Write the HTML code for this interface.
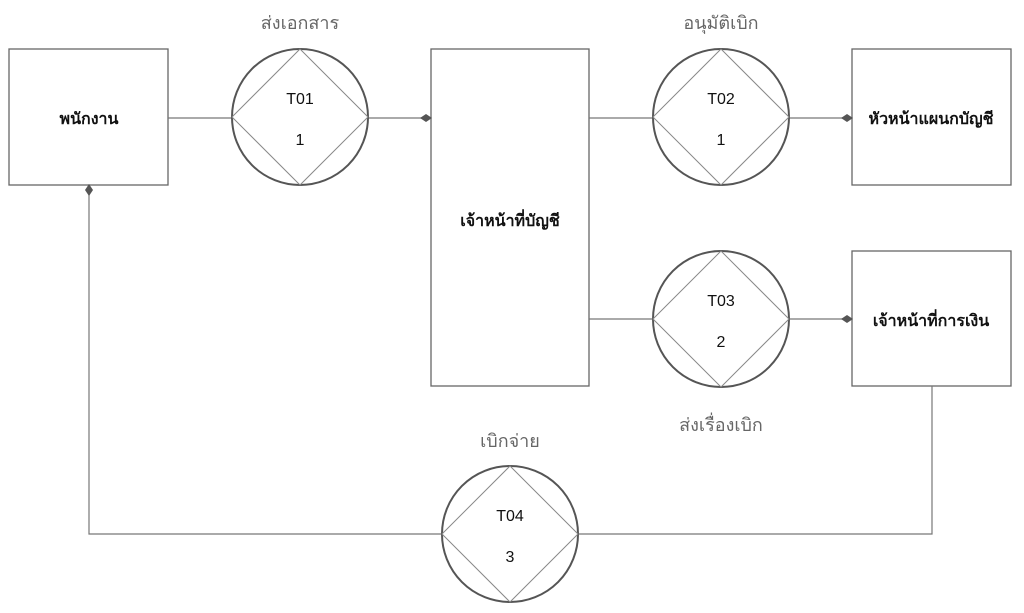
<!DOCTYPE html>
<html><head><meta charset="utf-8"><style>
html,body{margin:0;padding:0;background:#fff;}
svg{display:block;}
text{font-family:"Liberation Sans","Noto Sans CJK SC",sans-serif;}
.b{font-weight:bold;font-size:16px;fill:#111;}
.t{font-size:16px;fill:#111;}
.l{font-size:18px;fill:#666;}
</style></head><body>
<svg width="1024" height="613" viewBox="0 0 1024 613">
<g fill="#fff" stroke="#666" stroke-width="1.3">
<rect x="9" y="49" width="159" height="136"/>
<rect x="431" y="49" width="158" height="337"/>
<rect x="852" y="49" width="159" height="136"/>
<rect x="852" y="251" width="159" height="135"/>
</g>
<g stroke="#777" stroke-width="1.2" fill="none">
<line x1="168" y1="118" x2="232" y2="118"/>
<line x1="368" y1="118" x2="426" y2="118"/>
<line x1="589" y1="118" x2="653" y2="118"/>
<line x1="789" y1="118" x2="847" y2="118"/>
<line x1="589" y1="319" x2="653" y2="319"/>
<line x1="789" y1="319" x2="847" y2="319"/>
<polyline points="932,386 932,534 578,534"/>
<polyline points="442,534 89,534 89,190"/>
</g>
<g fill="#555">
<polygon points="420,118 426,114 432,118 426,122"/>
<polygon points="841,118 847,114 853,118 847,122"/>
<polygon points="841,319 847,315 853,319 847,323"/>
<polygon points="89,184 93,190 89,196 85,190"/>
</g>
<g fill="none">
<g transform="translate(300,117)"><circle r="68" stroke="#555" stroke-width="2"/><polygon points="0,-68 68,0 0,68 -68,0" stroke="#888" stroke-width="1"/></g>
<g transform="translate(721,117)"><circle r="68" stroke="#555" stroke-width="2"/><polygon points="0,-68 68,0 0,68 -68,0" stroke="#888" stroke-width="1"/></g>
<g transform="translate(721,319)"><circle r="68" stroke="#555" stroke-width="2"/><polygon points="0,-68 68,0 0,68 -68,0" stroke="#888" stroke-width="1"/></g>
<g transform="translate(510,534)"><circle r="68" stroke="#555" stroke-width="2"/><polygon points="0,-68 68,0 0,68 -68,0" stroke="#888" stroke-width="1"/></g>
</g>
<g text-anchor="middle">
<text class="b" x="89" y="124">พนักงาน</text>
<text class="b" x="510" y="226">เจ้าหน้าที่บัญชี</text>
<text class="b" x="931" y="124">หัวหน้าแผนกบัญชี</text>
<text class="b" x="931" y="326">เจ้าหน้าที่การเงิน</text>
<text class="t" x="300" y="104">T01</text><text class="t" x="300" y="145">1</text>
<text class="t" x="721" y="104">T02</text><text class="t" x="721" y="145">1</text>
<text class="t" x="721" y="306">T03</text><text class="t" x="721" y="347">2</text>
<text class="t" x="510" y="521">T04</text><text class="t" x="510" y="562">3</text>
<text class="l" x="300" y="29">ส่งเอกสาร</text>
<text class="l" x="721" y="29">อนุมัติเบิก</text>
<text class="l" x="721" y="431">ส่งเรื่องเบิก</text>
<text class="l" x="510" y="447">เบิกจ่าย</text>
</g>
</svg>
</body></html>
